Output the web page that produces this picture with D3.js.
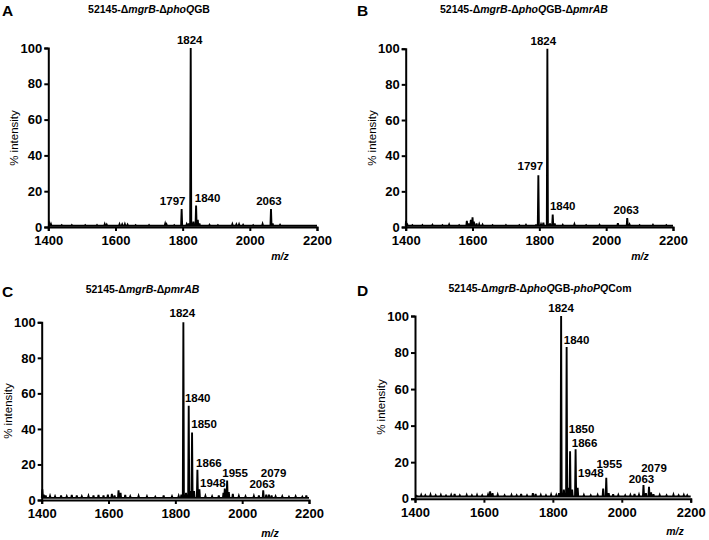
<!DOCTYPE html>
<html><head><meta charset="utf-8">
<script src="https://cdn.jsdelivr.net/npm/d3@7"></script>
<style>
body{margin:0;background:#fff;}
text{font-family:"Liberation Sans",Arial,Helvetica,sans-serif;}
</style></head>
<body>
<svg id="c" width="709" height="540"></svg>
<script>
// ---------- DATA ----------
const xTicks = [1400, 1600, 1800, 2000, 2200];
const yTicks = [0, 20, 40, 60, 80, 100];

const mzA  = [1403,1408,1440,1470,1510,1545,1568,1574,1612,1620,1628,1636,1660,1700,1748,1752,1775,1797,1812,1818,1824,1832,1840,1845,1850,1880,1905,1948,1960,1968,1980,2010,2038,2063,2068,2090];
const intA = [1.8,1.6,1.0,1.1,1.0,1.1,1.6,1.3,1.5,1.4,1.6,1.3,1.0,1.1,1.8,1.4,1.0,10,1.5,2,100,3,12,4,2,1.2,1.0,1.6,1.4,1.5,1.2,1.0,1.7,10,2,1.2];
const labelTextA = ["1824","1797","1840","2063"];
const labelMzA   = [1824,1797,1840,2063];
const labelValA  = [102,12.5,14,12.3];

const mzB  = [1401,1404,1420,1450,1480,1510,1530,1560,1583,1588,1595,1600,1604,1612,1620,1630,1660,1700,1740,1760,1790,1797,1805,1812,1824,1832,1840,1846,1870,1905,1940,1980,2035,2063,2070,2100,2140,2180];
const intB = [3.5,2.0,1.0,1.1,1.2,1.0,1.4,1.0,3.5,2.0,4.0,5.5,3.0,2.0,1.6,1.3,1.0,1.1,1.0,1.2,1.0,29,1.5,2.5,100,2,7,2,1.2,1.6,1.0,1.2,2.2,5,1.4,1.0,1.2,1.0];
const labelTextB = ["1824","1797","1840","2063"];
const labelMzB   = [1824,1797,1840,2063];
const labelValB  = [102,32,9.5,7.3];

const mzC  = [1402,1406,1412,1425,1440,1458,1475,1490,1505,1520,1540,1555,1570,1585,1598,1610,1618,1630,1636,1650,1665,1690,1715,1740,1765,1790,1810,1818,1824,1832,1840,1845,1850,1856,1866,1872,1890,1910,1930,1944,1948,1955,1960,1972,1990,2010,2035,2050,2063,2072,2080,2088,2100,2120,2140,2160,2180,2192];
const intC = [6,3,2.5,2.2,2,2.5,2,2.8,2.5,2,2.2,2.5,2.8,2.5,3,3.5,2.5,5.5,4,2.8,2,2.2,2,1.8,2.5,2,2.2,3,100,4,53,5,38,5,17,6,2.2,2,2.5,4,6.5,11,4.5,3.5,2.2,2,2.2,2.5,5.5,3,3,2.5,2,2,1.8,2,1.8,2.5];
const labelTextC = ["1824","1840","1850","1866","1948","1955","2063","2079"];
const labelMzC   = [1824,1840,1850,1866,1948,1955,2063,2079];
const labelValC  = [103,55,40.5,18.5,7.5,13,6.7,13];

const mzD  = [1405,1418,1430,1445,1460,1475,1490,1505,1515,1530,1550,1565,1580,1595,1612,1618,1625,1640,1660,1680,1695,1708,1725,1742,1750,1765,1780,1795,1810,1818,1824,1832,1840,1846,1850,1856,1866,1872,1890,1910,1930,1946,1955,1962,1975,1990,2010,2025,2037,2050,2063,2070,2079,2085,2092,2110,2130,2150,2165,2180,2190];
const intD = [1.5,2,1.8,2.2,1.8,2,1.7,2,2.6,1.8,2,1.8,2,1.8,2.2,4,3,2.2,1.8,2,1.8,2.6,1.8,3,2.6,2,1.8,2.2,2,3,100,5,83,6,26,5,27,6,2,1.8,2,5.5,11.5,3,2.5,2,1.8,2,2.6,2.2,7.5,3,6.5,3.5,2.5,2,1.8,2.2,1.8,2,1.8];
const labelTextD = ["1824","1840","1850","1866","1948","1955","2063","2079"];
const labelMzD   = [1824,1840,1850,1866,1948,1955,2063,2079];
const labelValD  = [102,84.7,35.7,28.5,11.7,17,8.4,14.8];

// ---------- LAYOUT ----------
const panels = [
  {letter:"A", lx:2, ly:15.5, title:[["52145-Δ",0],["mgrB",1],["-Δ",0],["phoQ",1],["GB",0]], tx:149, ty:12.7,
   x0:48.3, x1:317, y0:227, y1:48, ylx:13.5, yly:138, mzx:280, mzy:260, base:0.7,
   mz:mzA, it:intA, lt:labelTextA, lm:labelMzA, lv:labelValA, ldx:[-1,-9,11.5,-2]},
  {letter:"B", lx:357, ly:15.7, title:[["52145-Δ",0],["mgrB",1],["-Δ",0],["phoQ",1],["GB-Δ",0],["pmrAB",1]], tx:524, ty:12.7,
   x0:405.7, x1:673, y0:227, y1:48.7, ylx:372, yly:138, mzx:640, mzy:260, base:0.7,
   mz:mzB, it:intB, lt:labelTextB, lm:labelMzB, lv:labelValB, ldx:[-4,-8,10,-1]},
  {letter:"C", lx:2, ly:296.5, title:[["52145-Δ",0],["mgrB",1],["-Δ",0],["pmrAB",1]], tx:142.5, ty:293,
   x0:41.7, x1:309, y0:500, y1:322.3, ylx:7.5, yly:411, mzx:270, mzy:536.5, base:1.2,
   mz:mzC, it:intC, lt:labelTextC, lm:labelMzC, lv:labelValC, ldx:[-1,9,12,11.5,-12,8,-1,5]},
  {letter:"D", lx:357, ly:296, title:[["52145-Δ",0],["mgrB",1],["-Δ",0],["phoQ",1],["GB-",0],["phoPQ",1],["Com",0]], tx:540, ty:292,
   x0:415, x1:690.7, y0:498.7, y1:316, ylx:381, yly:407, mzx:675, mzy:535, base:1.2,
   mz:mzD, it:intD, lt:labelTextD, lm:labelMzD, lv:labelValD, ldx:[0,10,11.5,9,-13,3,-2,5]}
];

const svg = d3.select("#c");

panels.forEach(p => {
  const g = svg.append("g");
  const x = d3.scaleLinear().domain([1400, 2200]).range([p.x0, p.x1]);
  const y = d3.scaleLinear().domain([0, 100]).range([p.y0, p.y1]);

  // panel letter
  g.append("text").attr("x", p.lx).attr("y", p.ly)
    .attr("font-size", 15.5).attr("font-weight", "bold").text(p.letter);

  // title
  const t = g.append("text").attr("x", p.tx).attr("y", p.ty)
    .attr("text-anchor", "middle").attr("font-size", 10.5).attr("font-weight", "bold");
  p.title.forEach(([s, it]) => t.append("tspan").attr("font-style", it ? "italic" : "normal").text(s));

  // spectrum trace
  const pts = [[1400, p.base]];
  const hw = 1.6;
  p.mz.forEach((m, i) => {
    pts.push([m - hw, p.base], [m, p.it[i]], [m + hw, p.base]);
  });
  pts.push([2200, p.base]);
  pts.sort((a, b) => a[0] - b[0]);
  g.append("path").datum(pts)
    .attr("d", d3.line().x(d => x(d[0])).y(d => y(d[1])))
    .attr("fill", "none").attr("stroke", "#000").attr("stroke-width", 1.9)
    .attr("stroke-linejoin", "miter");

  // axes
  const xa = g.append("g").attr("transform", `translate(0,${p.y0})`)
    .call(d3.axisBottom(x).tickValues(xTicks).tickSize(4).tickPadding(5).tickFormat(d3.format("d")));
  const ya = g.append("g").attr("transform", `translate(${p.x0},0)`)
    .call(d3.axisLeft(y).tickValues(yTicks).tickSize(4).tickPadding(2));
  [xa, ya].forEach(a => {
    a.select(".domain").attr("stroke", "#000").attr("stroke-width", 2);
    a.selectAll(".tick line").attr("stroke", "#000").attr("stroke-width", 2);
    a.selectAll(".tick text").attr("font-size", 13).attr("font-weight", "bold")
      .attr("fill", "#000").style("font-family", '"Liberation Sans",Arial,sans-serif');
  });

  // peak labels
  p.lt.forEach((s, i) => {
    g.append("text").attr("x", x(p.lm[i]) + p.ldx[i]).attr("y", y(p.lv[i]))
      .attr("text-anchor", "middle").attr("font-size", 11.5).attr("font-weight", "bold").text(s);
  });

  // axis titles
  g.append("text").attr("transform", `translate(${p.ylx},${p.yly}) rotate(-90)`)
    .attr("text-anchor", "middle").attr("dy", "0.35em").attr("font-size", 11.5).text("% intensity");
  g.append("text").attr("x", p.mzx).attr("y", p.mzy).attr("text-anchor", "middle")
    .attr("font-size", 10.5).attr("font-weight", "bold").attr("font-style", "italic").text("m/z");
});
</script>
</body></html>
